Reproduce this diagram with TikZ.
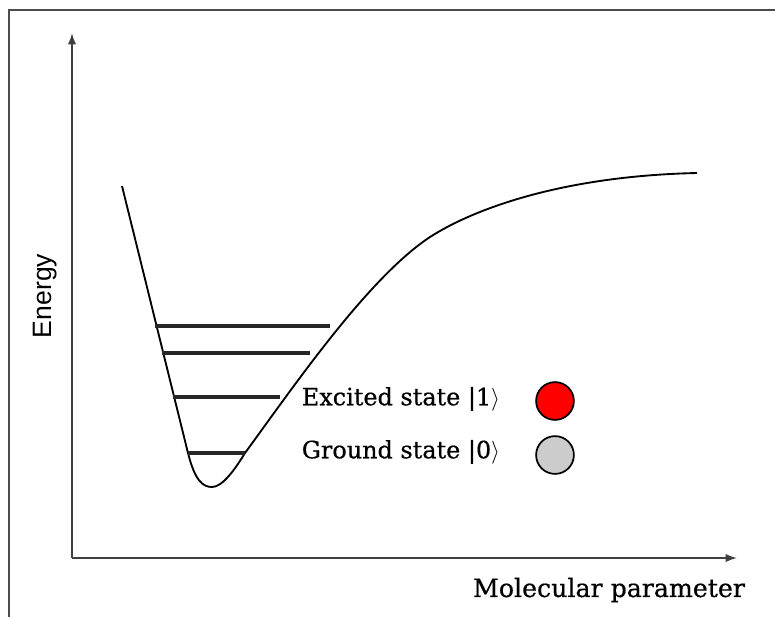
\documentclass[tikz,border=0pt]{standalone}
\usepackage{fontspec}
\setmainfont{DejaVu Serif}[FakeBold=0.6]
\newfontfamily\axisfont{Liberation Sans}
\usetikzlibrary{arrows.meta}

\begin{document}
\begin{tikzpicture}[x=0.02646cm, y=-0.02646cm, >={Latex[length=3mm, width=2.2mm]},
  frm/.style={draw=black!70, line width=1.4pt},
  axis/.style={->, black!75, line width=1.3pt},
  pot/.style={black, line width=1.4pt, line join=round},
  lvl/.style={black!85, line width=3pt},
  lbl/.style={font=\fontsize{18}{22}\selectfont, inner sep=0pt},
  qbit/.style={circle, draw=black, line width=1.3pt, minimum size=1cm, inner sep=0pt}]
  \useasboundingbox (0,0) rectangle (775,617);
  % frame (only top and left edges show)
  \draw[frm] (9,617) -- (9,10) -- (775,10);
  % axes
  \coordinate (o) at (72,558);
  \coordinate (ytop) at (72,33);
  \coordinate (xend) at (737,558);
  \draw[axis] (o) -- (ytop);
  \draw[axis] (o) -- (xend);
  \node[rotate=90, font=\axisfont\fontsize{20}{24}\selectfont] (elbl) at (45,296) {Energy};
  \node[lbl, font=\fontsize{19}{23}\selectfont] (xlbl) at (609,590) {Molecular parameter};
  % potential well
  \draw[pot] (122,186) -- (188,453)
    .. controls (195,481) and (203,487) .. (212,487)
    .. controls (222,487) and (234,471) .. (245,453)
    .. controls (294,386) and (368,278) .. (430,237)
    .. controls (472,210) and (560,176) .. (697,173);
  % vibrational levels
  \foreach \y/\xl/\xr in {326/155/330, 353/162/310, 397/173/280, 453/188/245}
    \draw[lvl] (\xl,\y) -- (\xr,\y);
  % legend
  \node[lbl] (exc) at (401,399) {Excited state |1$\rangle$};
  \node[lbl] (gnd) at (401,452) {Ground state |0$\rangle$};
  \node[qbit, fill=red] (one) at (555,401) {};
  \node[qbit, fill=black!20] (zero) at (555,455) {};
\end{tikzpicture}
\end{document}
